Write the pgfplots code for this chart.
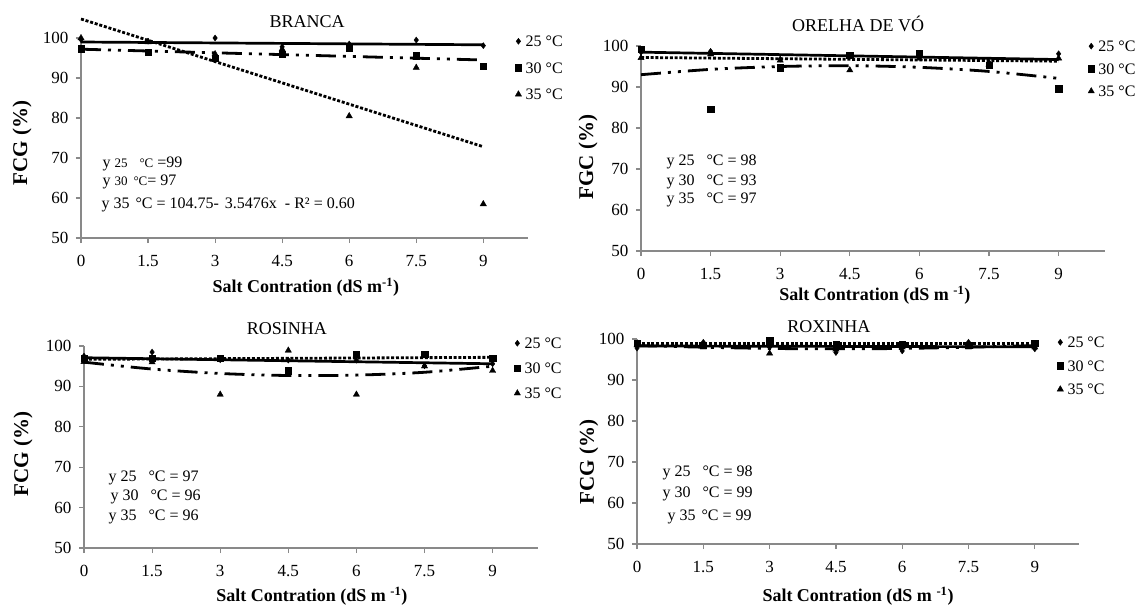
\documentclass[border=0pt]{standalone}
\usepackage{fontspec}
\setmainfont{Liberation Serif}
\usepackage{pgfplots}
\pgfplotsset{compat=1.18}
\definecolor{axgray}{HTML}{898989}
\pgfplotsset{
 panel/.style={
  scale only axis, anchor=south west,
  xmin=0, xmax=10, ymin=50, ymax=100,
  axis x line=bottom, axis y line=left,
  axis line style={draw=axgray, line width=1.5pt, -},
  xtick={0,1.5,3,4.5,6,7.5,9}, xticklabels={0,1.5,3,4.5,6,7.5,9},
  ytick={50,60,70,80,90,100}, yticklabels={50,60,70,80,90,100},
  tick align=outside, major tick length=5pt,
  tick style={draw=axgray, line width=1.2pt},
  ticklabel style={font=\fontsize{17}{17}\selectfont},
  xticklabel style={yshift=-9pt}, yticklabel style={xshift=-4pt},
  clip=false,
  title style={font=\fontsize{18}{18}\selectfont, anchor=center, yshift=-6pt},
  xlabel style={font=\bfseries\fontsize{18}{18}\selectfont, anchor=center},
  ylabel style={font=\bfseries\fontsize{21}{21}\selectfont, anchor=center},
  legend style={draw=none, fill=none, anchor=north west, inner sep=0pt,
    font=\fontsize{16}{16}\selectfont,
    nodes={inner sep=0pt, text height=11pt, text depth=0pt}, column sep=4pt},
  legend cell align=left,
  legend image code/.code={\draw[#1] plot coordinates {(4pt,0pt)};},
 },
 m25/.style={only marks, mark=diamond*, mark size=3pt, black},
 m30/.style={only marks, mark=square*, mark size=3.2pt, black},
 m35/.style={only marks, mark=triangle*, mark size=3.6pt, black},
 tsolid/.style={no marks, black, line width=2.7pt, forget plot},
 tdot/.style={no marks, black, line width=2.8pt, dash pattern=on 3pt off 1.8pt, forget plot},
 tdd/.style={no marks, black, line width=2.8pt, dash pattern=on 20pt off 7pt on 3pt off 7pt on 3pt off 7pt, forget plot},
}
\newcommand{\eqf}{\fontsize{16}{16}\selectfont}
\newcommand{\eqs}{\fontsize{13}{13}\selectfont}
\begin{document}
\begin{tikzpicture}
\useasboundingbox (0pt,0pt) rectangle (1146pt,-608pt);
% ---------------- BRANCA
\begin{axis}[panel, at={(81pt,-238pt)}, width=447pt, height=200pt,
  title={BRANCA}, title style={at={(0.506,1.08)}},
  xlabel={Salt Contration (dS m\textsuperscript{-1})}, xlabel style={at={(0.503,-0.245)}},
  ylabel={FCG (\%)}, ylabel style={at={(-0.132,0.475)}},
  legend style={at={(0.971,1.012)}, row sep=15.5pt}]
\addplot[m25] coordinates {(0,99.6) (1.5,99.2) (3,100) (4.5,97.8) (6,98.5) (7.5,99.5) (9,98.1)};
\addlegendentry{25 °C}
\addplot[m30] coordinates {(0,97.3) (1.5,96.5) (3,95) (4.5,96) (6,97.5) (7.5,95.6) (9,93)};
\addlegendentry{30 °C}
\addplot[m35] coordinates {(0,100) (1.5,99) (3,96) (4.5,97.2) (6,80.5) (7.5,92.6) (9,58.5)};
\addlegendentry{35 °C}
\addplot[tsolid] coordinates {(0,99) (9,98.3)};
\addplot[tdd] coordinates {(0,97.2) (9,94.5)};
\addplot[tdot] coordinates {(0,104.75) (9,72.82)};
\end{axis}
% ---------------- ORELHA DE VO
\begin{axis}[panel, at={(641pt,-251pt)}, width=464pt, height=205pt,
  title={ORELHA DE VÓ}, title style={at={(0.468,1.107)}},
  xlabel={Salt Contration (dS m \textsuperscript{-1})}, xlabel style={at={(0.504,-0.215)}},
  ylabel={FGC (\%)}, ylabel style={at={(-0.114,0.459)}},
  legend style={at={(0.963,1.027)}, row sep=11.5pt}]
\addplot[m25] coordinates {(0,98.5) (1.5,98.7) (3,96.8) (4.5,97.5) (6,97.5) (7.5,96) (9,98.1)};
\addlegendentry{25 °C}
\addplot[m30] coordinates {(0,99.2) (1.5,84.6) (3,94.7) (4.5,97.7) (6,98.1) (7.5,95.3) (9,89.6)};
\addlegendentry{30 °C}
\addplot[m35] coordinates {(0,97.1) (1.5,98) (3,96.5) (4.5,94.1) (6,97) (7.5,95.5) (9,97)};
\addlegendentry{35 °C}
\addplot[tsolid] coordinates {(0,98.5) (9,96.7)};
\addplot[tdot] coordinates {(0,97.2) (9,96.3)};
\addplot[tdd, smooth] coordinates {(0,93) (1.5,94.3) (3,95) (4.5,95.2) (6,94.8) (7.5,93.8) (9,92.1)};
\end{axis}
% ---------------- ROSINHA
\begin{axis}[panel, at={(84pt,-548pt)}, width=454pt, height=202pt,
  title={ROSINHA}, title style={at={(0.447,1.084)}},
  xlabel={Salt Contration (dS m \textsuperscript{-1})}, xlabel style={at={(0.502,-0.238)}},
  ylabel={FCG (\%)}, ylabel style={at={(-0.134,0.465)}},
  legend style={at={(0.947,1.042)}, row sep=14pt}]
\addplot[m25] coordinates {(0,97.5) (1.5,98.5) (3,96.6) (4.5,96.5) (6,96.5) (7.5,95.1) (9,95.6)};
\addlegendentry{25 °C}
\addplot[m30] coordinates {(0,97) (1.5,97) (3,97) (4.5,93.9) (6,97.9) (7.5,97.9) (9,97)};
\addlegendentry{30 °C}
\addplot[m35] coordinates {(0,96.1) (1.5,96) (3,88) (4.5,98.9) (6,88) (7.5,95) (9,93.9)};
\addlegendentry{35 °C}
\addplot[tsolid] coordinates {(0,97.1) (9,95.6)};
\addplot[tdot] coordinates {(0,96.7) (9,97.2)};
\addplot[tdd, smooth] coordinates {(0,96) (1.5,94.3) (3,93.2) (4.5,92.7) (6,92.8) (7.5,93.5) (9,95)};
\end{axis}
% ---------------- ROXINHA
\begin{axis}[panel, at={(637pt,-544pt)}, width=442pt, height=205pt,
  title={ROXINHA}, title style={at={(0.434,1.059)}},
  xlabel={Salt Contration (dS m \textsuperscript{-1})}, xlabel style={at={(0.5,-0.254)}},
  ylabel={FCG (\%)}, ylabel style={at={(-0.109,0.40)}},
  legend style={at={(0.950,1.012)}, row sep=12.5pt}]
\addplot[m25] coordinates {(0,97.8) (1.5,99.2) (3,98) (4.5,96.7) (6,97.1) (7.5,99.2) (9,97.6)};
\addlegendentry{25 °C}
\addplot[m30] coordinates {(0,99) (1.5,98.5) (3,99.6) (4.5,98.6) (6,98.8) (7.5,98.5) (9,99)};
\addlegendentry{30 °C}
\addplot[m35] coordinates {(0,98.5) (1.5,98) (3,96.5) (4.5,97.5) (6,98) (7.5,98) (9,98)};
\addlegendentry{35 °C}
\addplot[tdot] coordinates {(0,99) (9,99)};
\addplot[tsolid] coordinates {(0,98.3) (9,98.1)};
\addplot[tdd, smooth] coordinates {(0,98.4) (1.5,98) (3,97.7) (4.5,97.6) (6,97.7) (7.5,98) (9,98.4)};
\end{axis}
% ---------------- equations
\node[anchor=west, font=\eqf] at (99pt,-164pt) {y {\eqs 25}\hspace{12pt}{\eqs °C} =99};
\node[anchor=west, font=\eqf] at (99pt,-182pt) {y {\eqs 30}\hspace{6pt}{\eqs °C}= 97};
\node[anchor=west, font=\eqf] at (98pt,-205pt) {y 35\hspace{6pt}°C = 104.75-\hspace{6pt}3.5476x\hspace{4pt} - R² = 0.60};
\node[anchor=west, font=\eqf] at (663pt,-162pt) {y 25\hspace{12pt}°C = 98};
\node[anchor=west, font=\eqf] at (663pt,-182pt) {y 30\hspace{12pt}°C = 93};
\node[anchor=west, font=\eqf] at (663pt,-200pt) {y 35\hspace{12pt}°C = 97};
\node[anchor=west, font=\eqf] at (105pt,-478pt) {y 25\hspace{12pt}°C = 97};
\node[anchor=west, font=\eqf] at (107pt,-497pt) {y 30\hspace{12pt}°C = 96};
\node[anchor=west, font=\eqf] at (105pt,-517pt) {y 35\hspace{12pt}°C = 96};
\node[anchor=west, font=\eqf] at (659pt,-473pt) {y 25\hspace{12pt}°C = 98};
\node[anchor=west, font=\eqf] at (659pt,-494pt) {y 30\hspace{12pt}°C = 99};
\node[anchor=west, font=\eqf] at (664pt,-517pt) {y 35\hspace{6pt}°C = 99};
\end{tikzpicture}
\end{document}
